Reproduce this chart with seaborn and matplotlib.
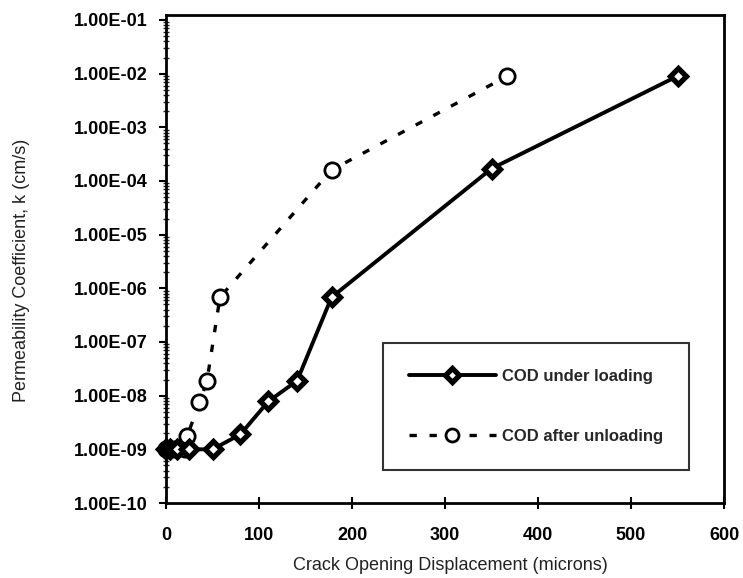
import matplotlib
matplotlib.use("Agg")
import matplotlib.pyplot as plt
import matplotlib.ticker as mticker
import numpy as np
import pandas as pd
import seaborn as sns

# Crack opening displacement (microns) and permeability (cm/s)
load_cod = [0, 4, 12, 25, 50, 80, 110, 141, 178, 350, 550]
load_k = [1.0e-9, 1.0e-9, 1.0e-9, 1.0e-9, 1.0e-9, 1.9e-9, 7.8e-9, 1.9e-8, 6.8e-7, 1.7e-4, 9.0e-3]

unload_cod = [0, 10, 20, 23, 36, 44, 58, 178, 367]
unload_k = [1.0e-9, 1.0e-9, 1.0e-9, 1.8e-9, 7.5e-9, 1.85e-8, 6.8e-7, 1.6e-4, 9.0e-3]

series_names = ["COD under loading", "COD after unloading"]
x_ticks = [0, 100, 200, 300, 400, 500, 600]
y_ticks = [1e-10, 1e-9, 1e-8, 1e-7, 1e-6, 1e-5, 1e-4, 1e-3, 1e-2, 1e-1]

df = pd.concat([
    pd.DataFrame({"cod": load_cod, "k": load_k, "series": series_names[0]}),
    pd.DataFrame({"cod": unload_cod, "k": unload_k, "series": series_names[1]}),
], ignore_index=True)

sns.set_style("ticks")
plt.rcParams["font.family"] = ["Liberation Sans", "DejaVu Sans"]

fig = plt.figure(figsize=(7.43, 5.78), dpi=100)
ax = fig.add_axes([166 / 743, 1 - 503 / 578, (724 - 166) / 743, (503 - 15) / 578])

sns.lineplot(data=df[df.series == series_names[0]], x="cod", y="k", ax=ax,
             color="black", lw=2.8, marker="D", markersize=8,
             markerfacecolor="white", markeredgecolor="black", markeredgewidth=3.8,
             label=series_names[0], sort=False, estimator=None, clip_on=False, zorder=4)
sns.lineplot(data=df[df.series == series_names[1]], x="cod", y="k", ax=ax,
             color="black", lw=2.4, linestyle=(0, (2.2, 3.8)), marker="o", markersize=11,
             markerfacecolor="white", markeredgecolor="black", markeredgewidth=2.0,
             label=series_names[1], sort=False, estimator=None, clip_on=False, zorder=3)

ax.set_yscale("log")
ax.set_xlim(0, 600)
ax.set_ylim(1e-10, 10 ** (-0.907))
ax.set_xticks(x_ticks)
ax.set_yticks(y_ticks)
ax.yaxis.set_major_formatter(mticker.FuncFormatter(lambda v, p: f"{v:.2E}"))
ax.yaxis.set_minor_locator(mticker.LogLocator(base=10, subs=np.arange(2, 10), numticks=100))
ax.yaxis.set_minor_formatter(mticker.NullFormatter())

for lab in ax.get_xticklabels() + ax.get_yticklabels():
    lab.set_fontweight("bold")
    lab.set_fontsize(13)

ax.tick_params(axis="y", which="major", direction="out", length=5, width=1.5, pad=8, colors="black")
ax.tick_params(axis="y", which="minor", direction="inout", length=4, width=1.0)
ax.tick_params(axis="x", which="major", direction="inout", length=8, width=1.5, pad=13, colors="black")

for s in ax.spines.values():
    s.set_linewidth(2.0)
    s.set_color("black")

ax.set_xlabel("Crack Opening Displacement (microns)", fontsize=13, color="#222222")
ax.set_ylabel("Permeability Coefficient, k (cm/s)", fontsize=13, color="#222222")
ax.xaxis.set_label_coords(0.51, -0.111)
ax.yaxis.set_label_coords(-0.244, 0.477)

leg = ax.legend(loc="upper left", bbox_to_anchor=(0.389, 0.328), borderaxespad=0,
                frameon=True, fancybox=False, handlelength=5.2, labelspacing=2.7,
                borderpad=1.55, handletextpad=0.4, markerscale=0.85,
                prop={"family": "Liberation Sans", "weight": "bold", "size": 12})
leg.get_frame().set_edgecolor("black")
leg.get_frame().set_linewidth(1.5)
leg.set_zorder(5)

fig.savefig("out.png", dpi=100)
